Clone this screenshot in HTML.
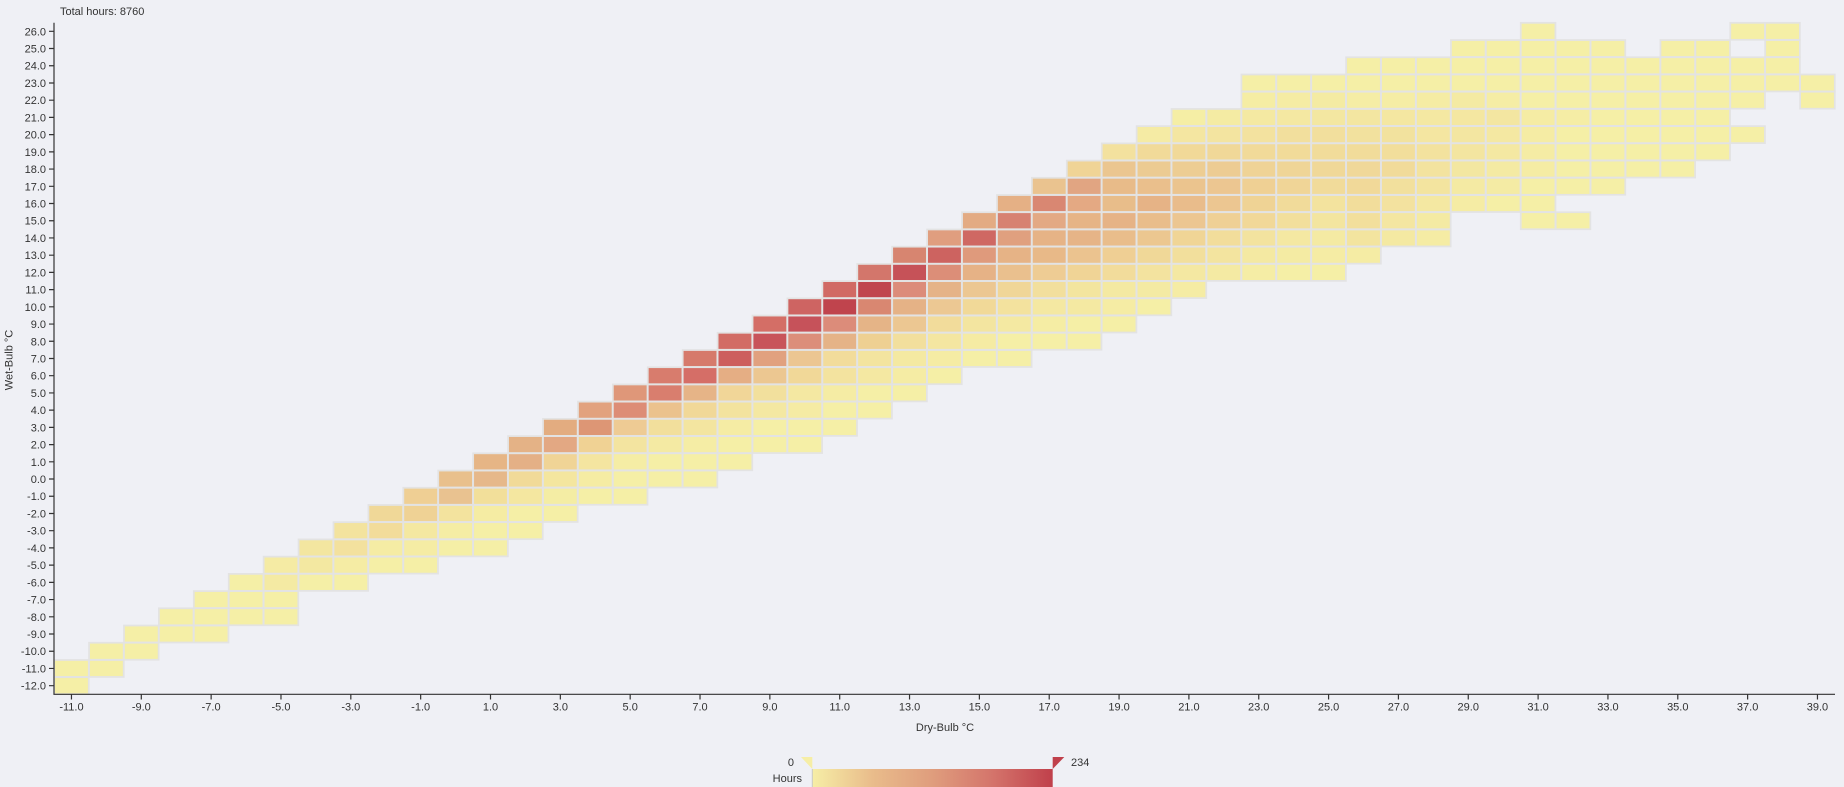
<!DOCTYPE html>
<html><head><meta charset="utf-8"><style>
html,body{margin:0;padding:0;background:#eff0f5;}
svg{display:block;}
text{font-family:"Liberation Sans",sans-serif;font-size:11px;fill:#333;}
.h rect{width:34.92px;height:17.22px;}
</style></head><body>
<svg width="1844" height="787" viewBox="0 0 1844 787" xmlns="http://www.w3.org/2000/svg">
<defs>
<pattern id="g" patternUnits="userSpaceOnUse" x="54" y="22.7" width="34.92" height="17.22">
<path d="M0 0H34.92V17.22H0Z" fill="none" stroke="#e3e3e3" stroke-width="2"/>
</pattern>
<linearGradient id="lg" x1="0" x2="1" y1="0" y2="0">
<stop offset="0" stop-color="#f6eea6"/><stop offset="0.25" stop-color="#e9bc8b"/><stop offset="0.5" stop-color="#df9d7d"/><stop offset="0.75" stop-color="#d4746b"/><stop offset="1" stop-color="#c0404b"/>
</linearGradient>
<g id="runs">
<rect x="1520.64" y="22.70" width="34.92" height="17.22"/><rect x="1730.16" y="22.70" width="69.84" height="17.22"/>
<rect x="1450.80" y="39.92" width="174.60" height="17.22"/><rect x="1660.32" y="39.92" width="69.84" height="17.22"/><rect x="1765.08" y="39.92" width="34.92" height="17.22"/>
<rect x="1346.04" y="57.14" width="453.96" height="17.22"/>
<rect x="1241.28" y="74.36" width="593.64" height="17.22"/>
<rect x="1241.28" y="91.58" width="523.80" height="17.22"/><rect x="1800.00" y="91.58" width="34.92" height="17.22"/>
<rect x="1171.44" y="108.80" width="558.72" height="17.22"/>
<rect x="1136.52" y="126.02" width="628.56" height="17.22"/>
<rect x="1101.60" y="143.24" width="628.56" height="17.22"/>
<rect x="1066.68" y="160.46" width="628.56" height="17.22"/>
<rect x="1031.76" y="177.68" width="593.64" height="17.22"/>
<rect x="996.84" y="194.90" width="558.72" height="17.22"/>
<rect x="961.92" y="212.12" width="488.88" height="17.22"/><rect x="1520.64" y="212.12" width="69.84" height="17.22"/>
<rect x="927.00" y="229.34" width="523.80" height="17.22"/>
<rect x="892.08" y="246.56" width="488.88" height="17.22"/>
<rect x="857.16" y="263.78" width="488.88" height="17.22"/>
<rect x="822.24" y="281.00" width="384.12" height="17.22"/>
<rect x="787.32" y="298.22" width="384.12" height="17.22"/>
<rect x="752.40" y="315.44" width="384.12" height="17.22"/>
<rect x="717.48" y="332.66" width="384.12" height="17.22"/>
<rect x="682.56" y="349.88" width="349.20" height="17.22"/>
<rect x="647.64" y="367.10" width="314.28" height="17.22"/>
<rect x="612.72" y="384.32" width="314.28" height="17.22"/>
<rect x="577.80" y="401.54" width="314.28" height="17.22"/>
<rect x="542.88" y="418.76" width="314.28" height="17.22"/>
<rect x="507.96" y="435.98" width="314.28" height="17.22"/>
<rect x="473.04" y="453.20" width="279.36" height="17.22"/>
<rect x="438.12" y="470.42" width="279.36" height="17.22"/>
<rect x="403.20" y="487.64" width="244.44" height="17.22"/>
<rect x="368.28" y="504.86" width="209.52" height="17.22"/>
<rect x="333.36" y="522.08" width="209.52" height="17.22"/>
<rect x="298.44" y="539.30" width="209.52" height="17.22"/>
<rect x="263.52" y="556.52" width="174.60" height="17.22"/>
<rect x="228.60" y="573.74" width="139.68" height="17.22"/>
<rect x="193.68" y="590.96" width="104.76" height="17.22"/>
<rect x="158.76" y="608.18" width="139.68" height="17.22"/>
<rect x="123.84" y="625.40" width="104.76" height="17.22"/>
<rect x="88.92" y="642.62" width="69.84" height="17.22"/>
<rect x="54.00" y="659.84" width="69.84" height="17.22"/>
<rect x="54.00" y="677.06" width="34.92" height="17.22"/>
</g>
</defs>

<text x="60" y="15">Total hours: 8760</text>

<use href="#runs" fill="#f5efa6"/>

<g class="h">
<g transform="translate(0,91.58)"><rect x="1241.28" fill="#f5eda4"/><rect x="1276.20" fill="#f5eca4"/><rect x="1311.12" fill="#f4eba3"/><rect x="1346.04" fill="#f5eda5"/><rect x="1380.96" fill="#f5eda5"/><rect x="1415.88" fill="#f5eca4"/><rect x="1450.80" fill="#f4eaa3"/><rect x="1485.72" fill="#f5eda5"/></g>
<g transform="translate(0,108.80)"><rect x="1171.44" fill="#f5eea5"/><rect x="1206.36" fill="#f4eba3"/><rect x="1241.28" fill="#f4e9a2"/><rect x="1276.20" fill="#f4e8a2"/><rect x="1311.12" fill="#f3e7a1"/><rect x="1346.04" fill="#f3e6a1"/><rect x="1380.96" fill="#f4e7a1"/><rect x="1415.88" fill="#f4e8a2"/><rect x="1450.80" fill="#f4e7a1"/><rect x="1485.72" fill="#f3e6a1"/><rect x="1520.64" fill="#f5eca4"/><rect x="1555.56" fill="#f5eda5"/></g>
<g transform="translate(0,126.02)"><rect x="1136.52" fill="#f5eba4"/><rect x="1171.44" fill="#f4e6a1"/><rect x="1206.36" fill="#f3e4a0"/><rect x="1241.28" fill="#f3e29f"/><rect x="1276.20" fill="#f2df9d"/><rect x="1311.12" fill="#f2df9d"/><rect x="1346.04" fill="#f2e19e"/><rect x="1380.96" fill="#f2e29e"/><rect x="1415.88" fill="#f4e6a1"/><rect x="1450.80" fill="#f3e6a1"/><rect x="1485.72" fill="#f4e8a2"/><rect x="1520.64" fill="#f5eca4"/></g>
<g transform="translate(0,143.24)"><rect x="1101.60" fill="#f3e19e"/><rect x="1136.52" fill="#f1da99"/><rect x="1171.44" fill="#f1d998"/><rect x="1206.36" fill="#f0d898"/><rect x="1241.28" fill="#f1da99"/><rect x="1276.20" fill="#f1db99"/><rect x="1311.12" fill="#f1dc9a"/><rect x="1346.04" fill="#f1dc9a"/><rect x="1380.96" fill="#f2de9b"/><rect x="1415.88" fill="#f3e29e"/><rect x="1450.80" fill="#f3e5a0"/><rect x="1485.72" fill="#f4e8a2"/><rect x="1520.64" fill="#f5eca4"/></g>
<g transform="translate(0,160.46)"><rect x="1066.68" fill="#f0d496"/><rect x="1101.60" fill="#ebc690"/><rect x="1136.52" fill="#eccb92"/><rect x="1171.44" fill="#edcd93"/><rect x="1206.36" fill="#edcc93"/><rect x="1241.28" fill="#efd396"/><rect x="1276.20" fill="#efd597"/><rect x="1311.12" fill="#f0d898"/><rect x="1346.04" fill="#f0d899"/><rect x="1380.96" fill="#f1db9a"/><rect x="1415.88" fill="#f3e39f"/><rect x="1450.80" fill="#f3e7a1"/><rect x="1485.72" fill="#f4eaa3"/><rect x="1520.64" fill="#f5eca4"/></g>
<g transform="translate(0,177.68)"><rect x="1031.76" fill="#eac38f"/><rect x="1066.68" fill="#e1a582"/><rect x="1101.60" fill="#e8bb89"/><rect x="1136.52" fill="#eabf8c"/><rect x="1171.44" fill="#ebc48e"/><rect x="1206.36" fill="#ecc691"/><rect x="1241.28" fill="#efd094"/><rect x="1276.20" fill="#f0d597"/><rect x="1311.12" fill="#f1db9a"/><rect x="1346.04" fill="#f1d999"/><rect x="1380.96" fill="#f2e09d"/><rect x="1415.88" fill="#f3e49f"/><rect x="1450.80" fill="#f4eaa3"/><rect x="1485.72" fill="#f4eba4"/></g>
<g transform="translate(0,194.90)"><rect x="996.84" fill="#e5b085"/><rect x="1031.76" fill="#d98772"/><rect x="1066.68" fill="#e4a983"/><rect x="1101.60" fill="#e8bd8a"/><rect x="1136.52" fill="#e6b386"/><rect x="1171.44" fill="#e9bc8b"/><rect x="1206.36" fill="#ecc691"/><rect x="1241.28" fill="#efd395"/><rect x="1276.20" fill="#f1db9a"/><rect x="1311.12" fill="#f3e39e"/><rect x="1346.04" fill="#f2dd9b"/><rect x="1380.96" fill="#f3e29f"/><rect x="1415.88" fill="#f4e8a2"/><rect x="1450.80" fill="#f5eca4"/></g>
<g transform="translate(0,212.12)"><rect x="961.92" fill="#e3ab83"/><rect x="996.84" fill="#d78272"/><rect x="1031.76" fill="#e3a984"/><rect x="1066.68" fill="#e6b486"/><rect x="1101.60" fill="#e6b386"/><rect x="1136.52" fill="#e9bd8b"/><rect x="1171.44" fill="#ecc691"/><rect x="1206.36" fill="#efd095"/><rect x="1241.28" fill="#f1d898"/><rect x="1276.20" fill="#f2df9c"/><rect x="1311.12" fill="#f3e59f"/><rect x="1346.04" fill="#f2df9c"/><rect x="1380.96" fill="#f4e6a1"/><rect x="1415.88" fill="#f4eaa3"/></g>
<g transform="translate(0,229.34)"><rect x="927.00" fill="#e09e7f"/><rect x="961.92" fill="#cf6863"/><rect x="996.84" fill="#e0a07f"/><rect x="1031.76" fill="#e6b386"/><rect x="1066.68" fill="#e6b487"/><rect x="1101.60" fill="#e9bd8b"/><rect x="1136.52" fill="#ecc790"/><rect x="1171.44" fill="#f0d596"/><rect x="1206.36" fill="#f2dd9b"/><rect x="1241.28" fill="#f3e39f"/><rect x="1276.20" fill="#f4e8a2"/><rect x="1311.12" fill="#f4eaa3"/><rect x="1346.04" fill="#f3e49f"/><rect x="1380.96" fill="#f4e9a2"/><rect x="1415.88" fill="#f5eca4"/></g>
<g transform="translate(0,246.56)"><rect x="892.08" fill="#d78570"/><rect x="927.00" fill="#cd6360"/><rect x="961.92" fill="#df9a7c"/><rect x="996.84" fill="#e6b386"/><rect x="1031.76" fill="#e8b988"/><rect x="1066.68" fill="#ebc38f"/><rect x="1101.60" fill="#efcf94"/><rect x="1136.52" fill="#f0d898"/><rect x="1171.44" fill="#f2df9c"/><rect x="1206.36" fill="#f3e49f"/><rect x="1241.28" fill="#f4e9a2"/><rect x="1276.20" fill="#f4eba3"/><rect x="1311.12" fill="#f5eca4"/><rect x="1346.04" fill="#f5eca4"/></g>
<g transform="translate(0,263.78)"><rect x="857.16" fill="#d3766b"/><rect x="892.08" fill="#c65258"/><rect x="927.00" fill="#dc8e78"/><rect x="961.92" fill="#e6b286"/><rect x="996.84" fill="#eac08e"/><rect x="1031.76" fill="#eecc94"/><rect x="1066.68" fill="#f0d496"/><rect x="1101.60" fill="#f2dc9b"/><rect x="1136.52" fill="#f3e39f"/><rect x="1171.44" fill="#f4e8a2"/><rect x="1206.36" fill="#f4eaa3"/><rect x="1241.28" fill="#f5eda5"/></g>
<g transform="translate(0,281.00)"><rect x="822.24" fill="#d16a64"/><rect x="857.16" fill="#c0464e"/><rect x="892.08" fill="#dc8c7a"/><rect x="927.00" fill="#e5b387"/><rect x="961.92" fill="#ecc792"/><rect x="996.84" fill="#f0d698"/><rect x="1031.76" fill="#f2df9d"/><rect x="1066.68" fill="#f3e59f"/><rect x="1101.60" fill="#f4e9a2"/><rect x="1136.52" fill="#f4eaa3"/><rect x="1171.44" fill="#f5eca4"/></g>
<g transform="translate(0,298.22)"><rect x="787.32" fill="#ce6462"/><rect x="822.24" fill="#c0444d"/><rect x="857.16" fill="#d98771"/><rect x="892.08" fill="#e5b286"/><rect x="927.00" fill="#ecc893"/><rect x="961.92" fill="#f1d998"/><rect x="996.84" fill="#f3e29e"/><rect x="1031.76" fill="#f4e8a2"/><rect x="1066.68" fill="#f4e9a2"/><rect x="1101.60" fill="#f5eca4"/></g>
<g transform="translate(0,315.44)"><rect x="752.40" fill="#d46e66"/><rect x="787.32" fill="#c6525a"/><rect x="822.24" fill="#dc8c7a"/><rect x="857.16" fill="#e5b487"/><rect x="892.08" fill="#ecc792"/><rect x="927.00" fill="#f2dc9b"/><rect x="961.92" fill="#f3e5a0"/><rect x="996.84" fill="#f4e9a2"/><rect x="1031.76" fill="#f5eda4"/></g>
<g transform="translate(0,332.66)"><rect x="717.48" fill="#d26c65"/><rect x="752.40" fill="#c8545a"/><rect x="787.32" fill="#dc8e7a"/><rect x="822.24" fill="#e5b387"/><rect x="857.16" fill="#eed092"/><rect x="892.08" fill="#f2df9d"/><rect x="927.00" fill="#f4e6a1"/><rect x="961.92" fill="#f5eba3"/></g>
<g transform="translate(0,349.88)"><rect x="682.56" fill="#d67a6b"/><rect x="717.48" fill="#cd5f5e"/><rect x="752.40" fill="#e1a17f"/><rect x="787.32" fill="#ecc692"/><rect x="822.24" fill="#f2dc9b"/><rect x="857.16" fill="#f3e49f"/><rect x="892.08" fill="#f4e9a2"/><rect x="927.00" fill="#f5eca4"/></g>
<g transform="translate(0,367.10)"><rect x="647.64" fill="#d87c6d"/><rect x="682.56" fill="#d56e67"/><rect x="717.48" fill="#e5ae84"/><rect x="752.40" fill="#ecc791"/><rect x="787.32" fill="#f1d898"/><rect x="822.24" fill="#f3e39f"/><rect x="857.16" fill="#f4e8a2"/><rect x="892.08" fill="#f5eca4"/></g>
<g transform="translate(0,384.32)"><rect x="612.72" fill="#df9779"/><rect x="647.64" fill="#d97e6e"/><rect x="682.56" fill="#e6b487"/><rect x="717.48" fill="#f1d698"/><rect x="752.40" fill="#f2e09d"/><rect x="787.32" fill="#f4e8a2"/><rect x="822.24" fill="#f5eca4"/></g>
<g transform="translate(0,401.54)"><rect x="577.80" fill="#e2a27e"/><rect x="612.72" fill="#dd8d76"/><rect x="647.64" fill="#ebc28d"/><rect x="682.56" fill="#f1d898"/><rect x="717.48" fill="#f3e39e"/><rect x="752.40" fill="#f4e8a2"/><rect x="787.32" fill="#f5eba4"/></g>
<g transform="translate(0,418.76)"><rect x="542.88" fill="#e3ac80"/><rect x="577.80" fill="#dd9675"/><rect x="612.72" fill="#eecb94"/><rect x="647.64" fill="#f2df9c"/><rect x="682.56" fill="#f3e5a0"/><rect x="717.48" fill="#f5eca4"/></g>
<g transform="translate(0,435.98)"><rect x="507.96" fill="#e4b286"/><rect x="542.88" fill="#e3a883"/><rect x="577.80" fill="#f0d294"/><rect x="612.72" fill="#f3e4a0"/><rect x="647.64" fill="#f4eaa3"/><rect x="682.56" fill="#f5eda5"/></g>
<g transform="translate(0,453.20)"><rect x="473.04" fill="#e6b585"/><rect x="507.96" fill="#e4b086"/><rect x="542.88" fill="#f0d496"/><rect x="577.80" fill="#f4e5a0"/><rect x="612.72" fill="#f5eda5"/></g>
<g transform="translate(0,470.42)"><rect x="438.12" fill="#e9c08c"/><rect x="473.04" fill="#e6b88a"/><rect x="507.96" fill="#f1da98"/><rect x="542.88" fill="#f4e69f"/><rect x="577.80" fill="#f5eca3"/></g>
<g transform="translate(0,487.64)"><rect x="403.20" fill="#efcf94"/><rect x="438.12" fill="#e9c290"/><rect x="473.04" fill="#f2df9a"/><rect x="507.96" fill="#f4e7a0"/><rect x="542.88" fill="#f4eda4"/></g>
<g transform="translate(0,504.86)"><rect x="368.28" fill="#f0d898"/><rect x="403.20" fill="#efd295"/><rect x="438.12" fill="#f3e39e"/><rect x="473.04" fill="#f5eca3"/></g>
<g transform="translate(0,522.08)"><rect x="333.36" fill="#f3e39e"/><rect x="368.28" fill="#f2dc9a"/><rect x="403.20" fill="#f4e8a1"/><rect x="438.12" fill="#f5eda4"/></g>
<g transform="translate(0,539.30)"><rect x="298.44" fill="#f3e6a0"/><rect x="333.36" fill="#f3e19e"/><rect x="368.28" fill="#f5eca4"/><rect x="403.20" fill="#f5eca4"/></g>
<g transform="translate(0,556.52)"><rect x="263.52" fill="#f5eba4"/><rect x="298.44" fill="#f3e8a1"/><rect x="333.36" fill="#f5eca4"/></g>
<g transform="translate(0,573.74)"><rect x="263.52" fill="#f4eaa3"/></g>
</g>

<use href="#runs" fill="url(#g)" stroke="#e3e3e3" stroke-width="1.5"/>

<!-- Y axis -->
<g stroke="#333" stroke-width="1.2" fill="none">
<path d="M54 22.7V694.3H1835"/>
<path d="M49 31.31H54M49 48.53H54M49 65.75H54M49 82.97H54M49 100.19H54M49 117.41H54M49 134.63H54M49 151.85H54M49 169.07H54M49 186.29H54M49 203.51H54M49 220.73H54M49 237.95H54M49 255.17H54M49 272.39H54M49 289.61H54M49 306.83H54M49 324.05H54M49 341.27H54M49 358.49H54M49 375.71H54M49 392.93H54M49 410.15H54M49 427.37H54M49 444.59H54M49 461.81H54M49 479.03H54M49 496.25H54M49 513.47H54M49 530.69H54M49 547.91H54M49 565.13H54M49 582.35H54M49 599.57H54M49 616.79H54M49 634.01H54M49 651.23H54M49 668.45H54M49 685.67H54"/>
<path d="M71.46 694.3V699.5M141.30 694.3V699.5M211.14 694.3V699.5M280.98 694.3V699.5M350.82 694.3V699.5M420.66 694.3V699.5M490.50 694.3V699.5M560.34 694.3V699.5M630.18 694.3V699.5M700.02 694.3V699.5M769.86 694.3V699.5M839.70 694.3V699.5M909.54 694.3V699.5M979.38 694.3V699.5M1049.22 694.3V699.5M1119.06 694.3V699.5M1188.90 694.3V699.5M1258.74 694.3V699.5M1328.58 694.3V699.5M1398.42 694.3V699.5M1468.26 694.3V699.5M1538.10 694.3V699.5M1607.94 694.3V699.5M1677.78 694.3V699.5M1747.62 694.3V699.5M1817.46 694.3V699.5"/>
</g>

<g text-anchor="end">
<text x="46" y="35.3">26.0</text><text x="46" y="52.5">25.0</text><text x="46" y="69.7">24.0</text><text x="46" y="87.0">23.0</text><text x="46" y="104.2">22.0</text><text x="46" y="121.4">21.0</text><text x="46" y="138.6">20.0</text><text x="46" y="155.8">19.0</text><text x="46" y="173.1">18.0</text><text x="46" y="190.3">17.0</text><text x="46" y="207.5">16.0</text><text x="46" y="224.7">15.0</text><text x="46" y="241.9">14.0</text><text x="46" y="259.2">13.0</text><text x="46" y="276.4">12.0</text><text x="46" y="293.6">11.0</text><text x="46" y="310.8">10.0</text><text x="46" y="328.0">9.0</text><text x="46" y="345.3">8.0</text><text x="46" y="362.5">7.0</text><text x="46" y="379.7">6.0</text><text x="46" y="396.9">5.0</text><text x="46" y="414.1">4.0</text><text x="46" y="431.4">3.0</text><text x="46" y="448.6">2.0</text><text x="46" y="465.8">1.0</text><text x="46" y="483.0">0.0</text><text x="46" y="500.2">-1.0</text><text x="46" y="517.5">-2.0</text><text x="46" y="534.7">-3.0</text><text x="46" y="551.9">-4.0</text><text x="46" y="569.1">-5.0</text><text x="46" y="586.3">-6.0</text><text x="46" y="603.6">-7.0</text><text x="46" y="620.8">-8.0</text><text x="46" y="638.0">-9.0</text><text x="46" y="655.2">-10.0</text><text x="46" y="672.4">-11.0</text><text x="46" y="689.7">-12.0</text>
</g>

<g text-anchor="middle">
<text x="71.46" y="710.5">-11.0</text><text x="141.30" y="710.5">-9.0</text><text x="211.14" y="710.5">-7.0</text><text x="280.98" y="710.5">-5.0</text><text x="350.82" y="710.5">-3.0</text><text x="420.66" y="710.5">-1.0</text><text x="490.50" y="710.5">1.0</text><text x="560.34" y="710.5">3.0</text><text x="630.18" y="710.5">5.0</text><text x="700.02" y="710.5">7.0</text><text x="769.86" y="710.5">9.0</text><text x="839.70" y="710.5">11.0</text><text x="909.54" y="710.5">13.0</text><text x="979.38" y="710.5">15.0</text><text x="1049.22" y="710.5">17.0</text><text x="1119.06" y="710.5">19.0</text><text x="1188.90" y="710.5">21.0</text><text x="1258.74" y="710.5">23.0</text><text x="1328.58" y="710.5">25.0</text><text x="1398.42" y="710.5">27.0</text><text x="1468.26" y="710.5">29.0</text><text x="1538.10" y="710.5">31.0</text><text x="1607.94" y="710.5">33.0</text><text x="1677.78" y="710.5">35.0</text><text x="1747.62" y="710.5">37.0</text><text x="1817.46" y="710.5">39.0</text>
<text x="945" y="731">Dry-Bulb °C</text>
<text transform="translate(12.5,360) rotate(-90)">Wet-Bulb °C</text>
</g>

<!-- Legend -->
<rect x="812.3" y="769" width="240.4" height="20" fill="url(#lg)"/>
<path d="M812.3 769V787" stroke="#c8c8c8" stroke-width="1"/>
<polygon points="801,757 812.3,757 812.3,769" fill="#f6eea6"/>
<polygon points="1052.7,757 1064.3,757 1052.7,769" fill="#c0404b"/>
<text x="794" y="766" text-anchor="end">0</text>
<text x="1071" y="766">234</text>
<text x="802" y="782" text-anchor="end">Hours</text>
</svg>
</body></html>
